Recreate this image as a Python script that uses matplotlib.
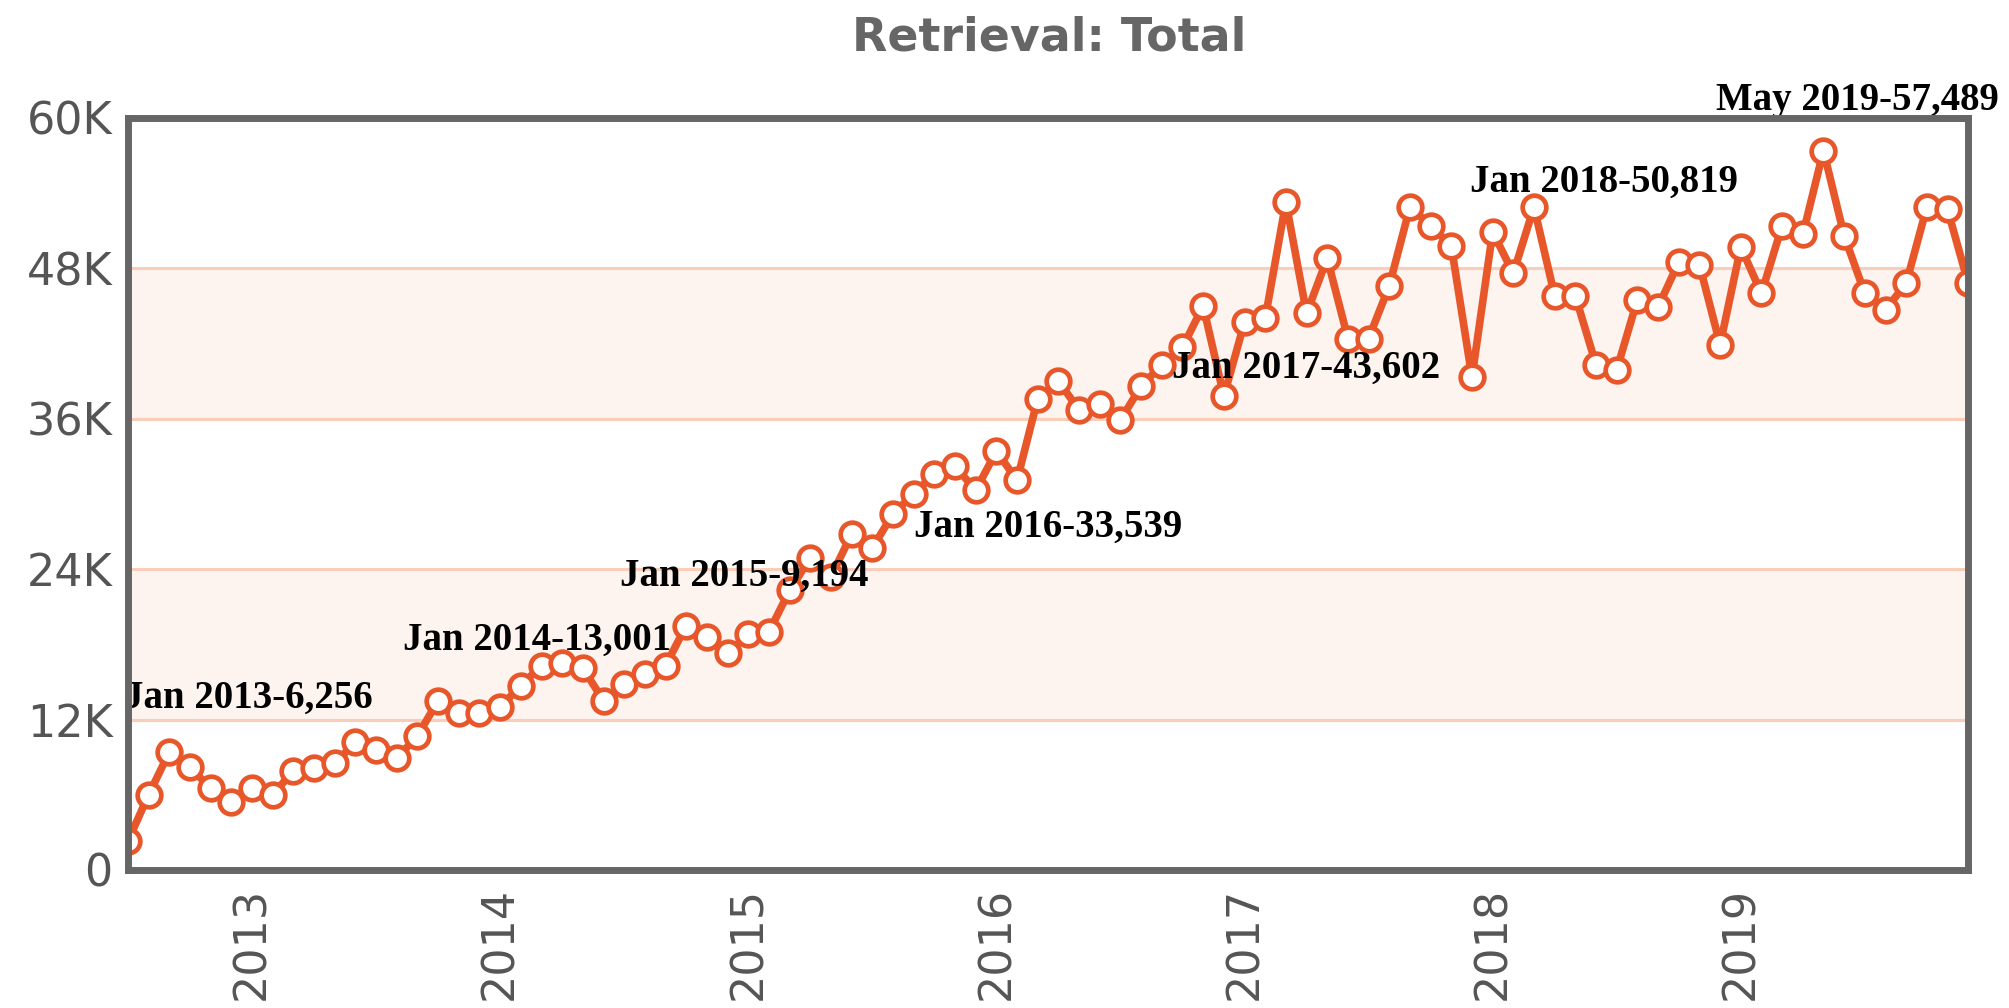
import numpy as np
import pandas as pd
import matplotlib.pyplot as plt

plt.switch_backend("agg")

# Monthly totals, Jul 2012 .. Dec 2019 (thousands)
months = pd.date_range("2012-07-01", periods=90, freq="MS")
values_k = [
    2.3, 6.0, 9.4, 8.2, 6.5, 5.4,
    6.5, 6.0, 7.9, 8.1, 8.5, 10.2, 9.6, 8.9, 10.7, 13.5, 12.5, 12.5,
    13.0, 14.7, 16.3, 16.5, 16.1, 13.5, 14.8, 15.6, 16.3, 19.5, 18.6, 17.3,
    18.8, 19.0, 22.3, 24.9, 23.4, 26.8, 25.7, 28.4, 30.0, 31.6, 32.2, 30.3,
    33.4, 31.1, 37.6, 39.0, 36.7, 37.2, 35.9, 38.6, 40.3, 41.7, 45.0, 37.8,
    43.7, 44.0, 53.3, 44.4, 48.8, 42.4, 42.4, 46.6, 52.9, 51.4, 49.8, 39.3,
    50.9, 47.6, 52.9, 45.8, 45.8, 40.3, 39.9, 45.5, 44.9, 48.5, 48.3, 41.9,
    49.7, 46.0, 51.4, 50.7, 57.4, 50.6, 46.0, 44.7, 46.8, 52.9, 52.7, 46.8,
]
values = np.array(values_k) * 1000

y_ticks = [0, 12000, 24000, 36000, 48000, 60000]
y_labels = ["0", "12K", "24K", "36K", "48K", "60K"]

notes = ["Jan 2013-6,256", "Jan 2014-13,001", "Jan 2015-9,194", "Jan 2016-33,539",
         "Jan 2017-43,602", "Jan 2018-50,819", "May 2019-57,489"]
note_x = [-0.2, 13.3, 23.8, 38.0, 50.5, 64.9, 76.8]
note_y = [13700, 18300, 23400, 27300, 40000, 54900, 61400]

line_col = "#e8572a"
x = np.arange(len(months))
jan_idx = [i for i, m in enumerate(months) if m.month == 1]
jan_lab = [str(months[i].year) for i in jan_idx]

fig = plt.figure(figsize=(20.09, 10.08), dpi=100)
ax = fig.add_axes([0.0637, 0.137, 0.916, 0.746])

# alternating bands + grid
for lo in (12000, 36000):
    ax.axhspan(lo, lo + 12000, color="#fdf3ef", zorder=0)
for t in y_ticks[1:-1]:
    ax.axhline(t, color="#f9cdb8", lw=2.2, zorder=1)

ax.plot(x, values, color=line_col, lw=5.5, zorder=3, solid_joinstyle="round")
ax.plot(x, values, ls="none", marker="o", ms=17, mfc="white", mec=line_col,
        mew=3.4, zorder=4)

for txt, nx, ny in zip(notes, note_x, note_y):
    ax.text(nx, ny, txt, family="Liberation Serif", weight="bold", fontsize=28,
            ha="left", va="center", color="black", zorder=5, clip_on=False)

ax.set_xlim(0, len(months) - 1)
ax.set_ylim(0, 60000)
ax.set_yticks(y_ticks)
ax.set_yticklabels(y_labels)
ax.set_xticks(jan_idx)
ax.set_xticklabels(jan_lab, rotation=90, va="top")
ax.tick_params(axis="both", length=0, labelcolor="#555555")
ax.tick_params(axis="x", pad=12, labelsize=32)
ax.tick_params(axis="y", pad=11, labelsize=32)
for s in ax.spines.values():
    s.set_color("#666666")
    s.set_linewidth(5)
    s.set_zorder(6)

fig.text(0.522, 0.962, "Retrieval: Total", ha="center", va="center",
         fontsize=33, weight="bold", color="#666666")

fig.savefig("out.png", dpi=100)
plt.close()
